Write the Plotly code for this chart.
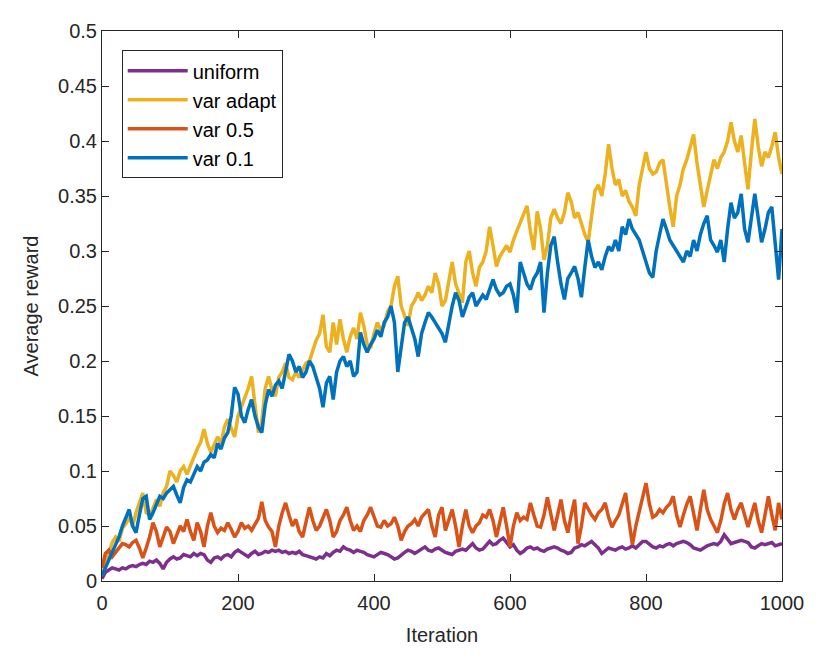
import plotly.graph_objects as go

# -------------------------------
# Data (every 5 iterations)
# -------------------------------
iterations = list(range(0, 1001, 5))

uniform = [
    0.002, 0.008, 0.010, 0.012, 0.011, 0.010, 0.012, 0.011, 0.013, 0.014,
    0.013, 0.015, 0.016, 0.015, 0.018, 0.017, 0.019, 0.016, 0.011, 0.017,
    0.020, 0.022, 0.020, 0.021, 0.024, 0.023, 0.022, 0.025, 0.023, 0.025,
    0.024, 0.019, 0.017, 0.021, 0.022, 0.020, 0.023, 0.024, 0.022, 0.026,
    0.028, 0.026, 0.024, 0.022, 0.025, 0.027, 0.024, 0.025, 0.027, 0.026,
    0.028, 0.027, 0.028, 0.026, 0.027, 0.025, 0.026, 0.025, 0.027, 0.024,
    0.023, 0.022, 0.021, 0.020, 0.022, 0.021, 0.025, 0.023, 0.026, 0.028,
    0.027, 0.031, 0.029, 0.028, 0.026, 0.028, 0.027, 0.026, 0.024, 0.023,
    0.022, 0.024, 0.026, 0.025, 0.024, 0.022, 0.020, 0.021, 0.024, 0.026,
    0.028, 0.027, 0.025, 0.027, 0.029, 0.031, 0.028, 0.027, 0.029, 0.030,
    0.028, 0.026, 0.025, 0.024, 0.027, 0.028, 0.029, 0.028, 0.031, 0.034,
    0.030, 0.028, 0.029, 0.032, 0.036, 0.033, 0.034, 0.037, 0.039, 0.035,
    0.031, 0.033, 0.028, 0.025, 0.027, 0.030, 0.031, 0.029, 0.030, 0.028,
    0.027, 0.029, 0.030, 0.031, 0.030, 0.028, 0.027, 0.025, 0.026, 0.030,
    0.031, 0.033, 0.032, 0.034, 0.036, 0.033, 0.030, 0.025, 0.028, 0.030,
    0.029, 0.028, 0.030, 0.031, 0.029, 0.030, 0.032, 0.030, 0.033, 0.036,
    0.036, 0.033, 0.031, 0.030, 0.032, 0.031, 0.033, 0.034, 0.032, 0.034,
    0.035, 0.036, 0.035, 0.033, 0.030, 0.029, 0.028, 0.030, 0.032, 0.033,
    0.034, 0.033, 0.036, 0.042, 0.038, 0.034, 0.035, 0.036, 0.037, 0.036,
    0.035, 0.031, 0.030, 0.032, 0.034, 0.033, 0.034, 0.035, 0.032, 0.033,
    0.034,
]

var_adapt = [
    0.005, 0.015, 0.025, 0.035, 0.040, 0.036, 0.048, 0.052, 0.058, 0.050,
    0.062, 0.070, 0.080, 0.062, 0.060, 0.066, 0.074, 0.068, 0.080, 0.086,
    0.100, 0.096, 0.090, 0.100, 0.104, 0.097, 0.105, 0.113, 0.120, 0.126,
    0.138, 0.125, 0.117, 0.124, 0.131, 0.125, 0.140, 0.147, 0.138, 0.131,
    0.150, 0.158, 0.165, 0.175, 0.186, 0.160, 0.135, 0.145, 0.175, 0.186,
    0.174, 0.168, 0.185, 0.190, 0.198, 0.185, 0.183, 0.190, 0.185, 0.192,
    0.198, 0.200, 0.210, 0.219, 0.225, 0.242, 0.213, 0.208, 0.235, 0.215,
    0.238, 0.220, 0.208, 0.222, 0.230, 0.220, 0.244, 0.232, 0.215, 0.212,
    0.225, 0.235, 0.228, 0.232, 0.245, 0.250, 0.268, 0.277, 0.250, 0.240,
    0.232, 0.250, 0.255, 0.262, 0.255, 0.260, 0.268, 0.262, 0.280, 0.270,
    0.250, 0.255, 0.275, 0.290, 0.270, 0.262, 0.253, 0.290, 0.300, 0.280,
    0.268, 0.285, 0.290, 0.300, 0.322, 0.305, 0.286, 0.295, 0.300, 0.305,
    0.299, 0.310, 0.318, 0.326, 0.335, 0.341, 0.318, 0.301, 0.336, 0.320,
    0.292, 0.305, 0.330, 0.338, 0.330, 0.325, 0.335, 0.353, 0.345, 0.330,
    0.335, 0.325, 0.315, 0.308, 0.330, 0.355, 0.360, 0.350, 0.370, 0.397,
    0.375, 0.360, 0.365, 0.350, 0.355, 0.345, 0.340, 0.332, 0.360, 0.375,
    0.390, 0.375, 0.370, 0.372, 0.380, 0.383, 0.360, 0.340, 0.322, 0.350,
    0.360, 0.375, 0.383, 0.395, 0.406, 0.380, 0.360, 0.340, 0.355, 0.370,
    0.383, 0.375, 0.385, 0.390, 0.400, 0.417, 0.400, 0.390, 0.405, 0.380,
    0.356, 0.390, 0.420, 0.395, 0.377, 0.390, 0.385, 0.395, 0.408, 0.385,
    0.370,
]

var_05 = [
    0.012, 0.025, 0.028, 0.022, 0.026, 0.030, 0.034, 0.033, 0.031, 0.035,
    0.037, 0.030, 0.021, 0.030, 0.040, 0.053, 0.045, 0.031, 0.040, 0.049,
    0.045, 0.034, 0.042, 0.050, 0.045, 0.056, 0.045, 0.037, 0.053, 0.045,
    0.031, 0.050, 0.062, 0.050, 0.044, 0.048, 0.046, 0.053, 0.047, 0.040,
    0.045, 0.053, 0.048, 0.050, 0.046, 0.052, 0.057, 0.072, 0.055, 0.049,
    0.045, 0.031, 0.050, 0.062, 0.071, 0.060, 0.050, 0.056, 0.045, 0.040,
    0.055, 0.067, 0.055, 0.046, 0.050, 0.058, 0.065, 0.055, 0.040, 0.045,
    0.055, 0.060, 0.067, 0.055, 0.046, 0.050, 0.045, 0.055, 0.060, 0.067,
    0.058, 0.050, 0.049, 0.055, 0.050, 0.052, 0.058, 0.050, 0.037, 0.045,
    0.050, 0.052, 0.056, 0.050, 0.058, 0.062, 0.065, 0.050, 0.040, 0.060,
    0.067, 0.046, 0.055, 0.065, 0.050, 0.031, 0.050, 0.065, 0.050, 0.044,
    0.050, 0.053, 0.060, 0.058, 0.065, 0.055, 0.040, 0.055, 0.067, 0.050,
    0.031, 0.050, 0.062, 0.055, 0.058, 0.056, 0.071, 0.060, 0.050, 0.049,
    0.060, 0.076, 0.060, 0.046, 0.060, 0.074, 0.055, 0.044, 0.060, 0.074,
    0.034, 0.050, 0.071, 0.065, 0.060, 0.056, 0.062, 0.065, 0.071, 0.058,
    0.049, 0.055, 0.060, 0.070, 0.080, 0.055, 0.033, 0.050, 0.062, 0.075,
    0.089, 0.070, 0.058, 0.060, 0.065, 0.062, 0.067, 0.070, 0.077, 0.060,
    0.049, 0.060, 0.070, 0.077, 0.060, 0.046, 0.065, 0.083, 0.065, 0.056,
    0.050, 0.044, 0.055, 0.070, 0.080, 0.065, 0.056, 0.065, 0.071, 0.060,
    0.049, 0.060, 0.071, 0.055, 0.044, 0.060, 0.077, 0.060, 0.046, 0.071,
    0.056,
]

var_01 = [
    0.005, 0.012, 0.018, 0.025, 0.032, 0.040, 0.050, 0.058, 0.065, 0.050,
    0.044, 0.060, 0.075, 0.077, 0.056, 0.062, 0.070, 0.077, 0.075, 0.080,
    0.083, 0.086, 0.078, 0.071, 0.085, 0.092, 0.090, 0.098, 0.104, 0.100,
    0.108, 0.110, 0.115, 0.112, 0.125, 0.120, 0.130, 0.135, 0.150, 0.176,
    0.170, 0.150, 0.144, 0.156, 0.165, 0.150, 0.140, 0.135, 0.160, 0.174,
    0.168, 0.178, 0.182, 0.175, 0.190, 0.206, 0.200, 0.190, 0.195, 0.185,
    0.190, 0.200, 0.195, 0.185, 0.175, 0.158, 0.180, 0.186, 0.165, 0.190,
    0.200, 0.204, 0.195, 0.200, 0.186, 0.190, 0.226, 0.215, 0.208, 0.215,
    0.220, 0.228, 0.222, 0.235, 0.240, 0.250, 0.235, 0.190, 0.215, 0.235,
    0.240, 0.230, 0.220, 0.204, 0.225, 0.235, 0.244, 0.240, 0.235, 0.230,
    0.225, 0.217, 0.235, 0.250, 0.262, 0.255, 0.240, 0.250, 0.258, 0.262,
    0.250, 0.255, 0.260, 0.256, 0.265, 0.274, 0.265, 0.260, 0.262, 0.268,
    0.270, 0.260, 0.244, 0.290, 0.280, 0.270, 0.265, 0.275, 0.280, 0.290,
    0.244, 0.280, 0.305, 0.313, 0.290, 0.270, 0.256, 0.275, 0.280, 0.286,
    0.275, 0.258, 0.285, 0.310, 0.295, 0.285, 0.290, 0.283, 0.295, 0.304,
    0.300, 0.310, 0.300, 0.322, 0.315, 0.329, 0.320, 0.315, 0.310, 0.300,
    0.290, 0.280, 0.276, 0.300, 0.315, 0.329, 0.320, 0.310, 0.305, 0.300,
    0.295, 0.290, 0.300, 0.295, 0.310, 0.300, 0.315, 0.325, 0.332, 0.310,
    0.305, 0.299, 0.310, 0.290, 0.320, 0.344, 0.330, 0.335, 0.352, 0.320,
    0.308, 0.330, 0.352, 0.330, 0.308, 0.320, 0.335, 0.340, 0.310, 0.274,
    0.320,
]

series = [
    ("uniform", uniform, "#7E2F8E"),
    ("var adapt", var_adapt, "#EDB120"),
    ("var 0.5", var_05, "#D95319"),
    ("var 0.1", var_01, "#0072BD"),
]

# -------------------------------
# Plot
# -------------------------------
AXIS_COLOR = "#262626"
FONT = "Liberation Sans, Arial, sans-serif"
FONT_SIZE = 20

fig = go.Figure()
for name, values, color in series:
    fig.add_trace(go.Scatter(
        x=iterations,
        y=values,
        mode="lines",
        name=name,
        line=dict(color=color, width=3.5),
    ))

axis_style = dict(
    showline=True,
    linecolor=AXIS_COLOR,
    linewidth=1,
    mirror="ticks",
    ticks="inside",
    ticklen=7,
    tickcolor=AXIS_COLOR,
    showgrid=False,
    zeroline=False,
    tickfont=dict(size=FONT_SIZE, color=AXIS_COLOR, family=FONT),
)

fig.update_layout(
    width=830,
    height=659,
    paper_bgcolor="white",
    plot_bgcolor="white",
    margin=dict(l=102, r=48, t=31, b=78),
    font=dict(family=FONT, color=AXIS_COLOR, size=FONT_SIZE),
    xaxis=dict(
        range=[0, 1000],
        dtick=200,
        ticklabelstandoff=4,
        title=dict(text="Iteration", font=dict(size=FONT_SIZE), standoff=14),
        **axis_style,
    ),
    yaxis=dict(
        range=[0, 0.5],
        dtick=0.05,
        title=dict(text="Average reward", font=dict(size=FONT_SIZE), standoff=14),
        **axis_style,
    ),
    legend=dict(
        x=0.029,
        y=0.965,
        xanchor="left",
        yanchor="top",
        bgcolor="white",
        bordercolor=AXIS_COLOR,
        borderwidth=1,
        font=dict(size=FONT_SIZE, color="black"),
        itemwidth=60,
        tracegroupgap=0,
    ),
    showlegend=True,
)

# page body has a default 8px margin; drop it so the figure sits at 0,0
fig.write_html(
    "out.html",
    config={"displayModeBar": False},
    post_script="document.body.style.margin='0';",
)
